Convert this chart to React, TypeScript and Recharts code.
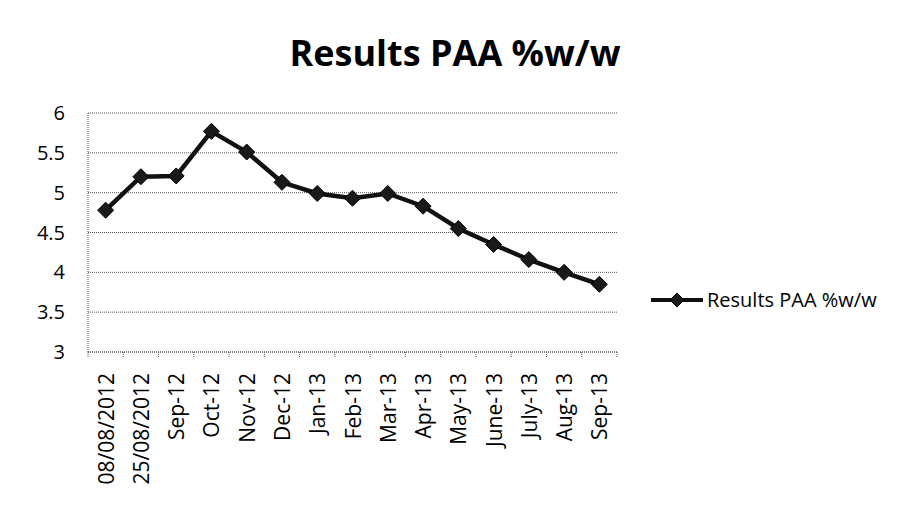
import React from 'react';
import { LineChart, Line, XAxis, YAxis, CartesianGrid, Legend, Customized } from 'recharts';

const months = [
  '08/08/2012', '25/08/2012', 'Sep-12', 'Oct-12', 'Nov-12', 'Dec-12', 'Jan-13', 'Feb-13',
  'Mar-13', 'Apr-13', 'May-13', 'June-13', 'July-13', 'Aug-13', 'Sep-13',
];
const paaValues = [4.78, 5.2, 5.21, 5.77, 5.51, 5.13, 4.99, 4.93, 4.99, 4.83, 4.55, 4.35, 4.16, 4.0, 3.85];
const yTicks = [3, 3.5, 4, 4.5, 5, 5.5, 6];

const SERIES = 'Results PAA %w/w';
const data = months.map((month, i) => ({ month, value: paaValues[i] }));

const W = 910;
const H = 515;
const margin = { top: 113, right: 293, bottom: 13, left: 28 };
const halfBand = (W - margin.left - 60 - margin.right) / months.length / 2;
const font = '"Open Sans", sans-serif';
const gridColor = '#555';

// diamond marker like the Excel one
const Diamond = ({ cx, cy }: any) => {
  if (cx == null || cy == null) return null;
  const r = 8;
  return (
    <polygon
      points={`${cx},${cy - r} ${cx + r},${cy} ${cx},${cy + r} ${cx - r},${cy}`}
      fill="#1a1a1a"
      stroke="#000"
      strokeWidth={1}
    />
  );
};

// rotated label + boundary tick marks
const MonthTick = ({ x, y, payload, index }: any) => {
  const off = payload?.offset || halfBand;
  const axisY = y - 8;
  return (
    <g>
      <line x1={x - off} x2={x - off} y1={axisY} y2={axisY + 5} stroke={gridColor} strokeDasharray="1 1" />
      {index === months.length - 1 && (
        <line x1={x + off} x2={x + off} y1={axisY} y2={axisY + 5} stroke={gridColor} strokeDasharray="1 1" />
      )}
      <text
        x={x}
        y={y + 13}
        transform={`rotate(-90 ${x} ${y + 13})`}
        textAnchor="end"
        dominantBaseline="central"
        fontSize={21}
        fontFamily={font}
        fill="#000"
      >
        {payload.value}
      </text>
    </g>
  );
};

const LegendContent = () => (
  <div style={{ display: 'flex', alignItems: 'center', fontFamily: font, fontSize: 20, color: '#000' }}>
    <svg width={54} height={20}>
      <line x1={1} x2={53} y1={10} y2={10} stroke="#111" strokeWidth={4} />
      <polygon points="27,3 34,10 27,17 20,10" fill="#1a1a1a" stroke="#000" />
    </svg>
    <span style={{ marginLeft: 3 }}>{SERIES}</span>
  </div>
);

// outer chart frame drawn inside the svg
const Frame = () => <rect x={3} y={3} width={W - 7} height={H - 7} fill="none" stroke="#888" strokeWidth={1.5} />;

export default function App() {
  return (
    <div style={{ position: 'relative', width: W, height: H, margin: -8, background: '#fff' }}>
      <div
        style={{
          position: 'absolute',
          left: 0,
          top: 35,
          width: W,
          textAlign: 'center',
          fontFamily: font,
          fontWeight: 700,
          fontSize: 36,
          lineHeight: '36px',
          color: '#000',
        }}
      >
        {SERIES}
      </div>
      <div style={{ position: 'absolute', left: 0, top: 0 }}>
        <LineChart width={W} height={H} data={data} margin={margin}>
          <Customized component={<Frame />} />
          <CartesianGrid horizontal vertical={false} stroke={gridColor} strokeDasharray="1 1" />
          <XAxis
            dataKey="month"
            scale="band"
            interval={0}
            height={150}
            axisLine={{ stroke: gridColor, strokeDasharray: '1 1' }}
            tickLine={false}
            tick={<MonthTick />}
          />
          <YAxis
            domain={[3, 6]}
            ticks={yTicks}
            width={60}
            axisLine={{ stroke: gridColor, strokeDasharray: '1 1' }}
            tickLine={false}
            tickMargin={17}
            tick={{ fontSize: 20, fill: '#000', fontFamily: font }}
          />
          <Legend
            layout="horizontal"
            verticalAlign="middle"
            align="center"
            content={<LegendContent />}
            wrapperStyle={{ position: 'absolute', left: 650, top: 286, width: 255 }}
          />
          <Line
            type="linear"
            dataKey="value"
            name={SERIES}
            stroke="#111"
            strokeWidth={4.5}
            dot={<Diamond />}
            activeDot={false}
            isAnimationActive={false}
          />
        </LineChart>
      </div>
    </div>
  );
}
